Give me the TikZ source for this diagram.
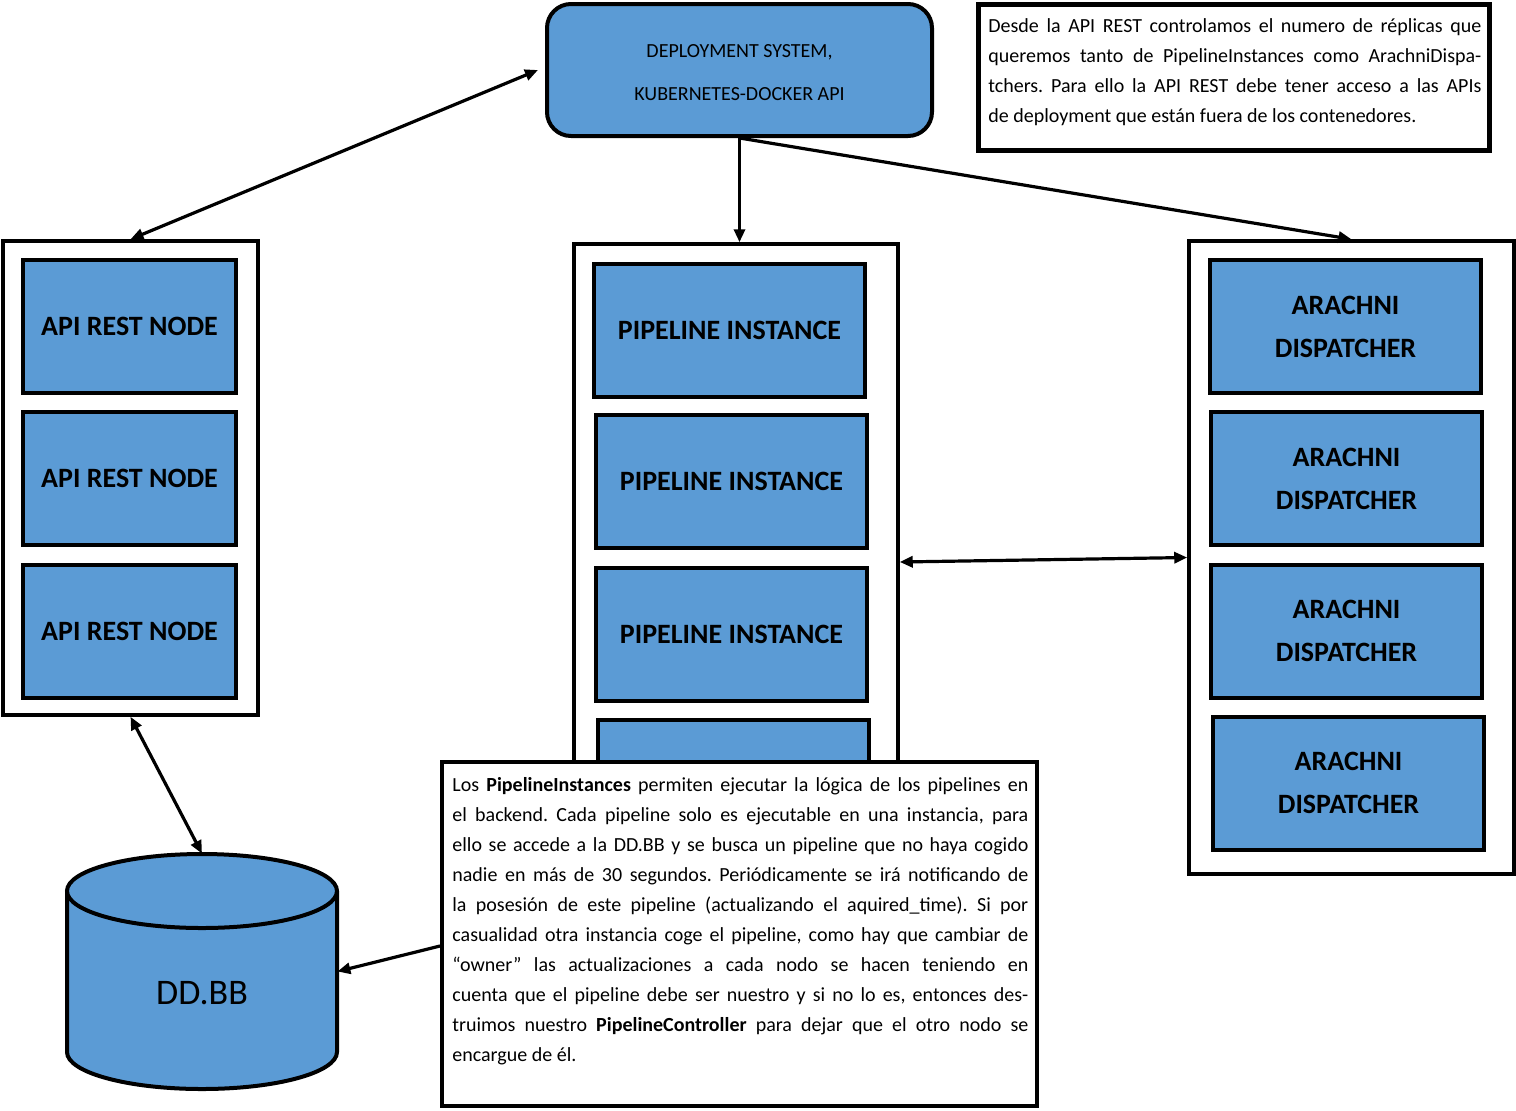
\documentclass[tikz,border=0pt]{standalone}
\usepackage{fontspec}
\setmainfont{Carlito}
\usetikzlibrary{arrows.meta,positioning,calc}
\definecolor{unitblue}{HTML}{5B9BD5}
\frenchspacing

\tikzset{
  container/.style={draw, fill=white, line width=1.75pt, inner sep=0pt},
  unit/.style={draw, fill=unitblue, line width=2pt, inner sep=0pt, align=center,
    minimum height=66.5pt, font=\fontsize{14}{21.5}\selectfont\bfseries},
  notebox/.style={draw, fill=white, inner sep=0pt},
  notetext/.style={inner sep=0pt, align=justify, anchor=north west,
    font=\fontsize{10}{15}\selectfont},
  link/.style={-{Triangle[length=6.5pt,width=5.5pt]}, line width=1.6pt},
  both/.style={{Triangle[length=6.5pt,width=5.5pt]}-{Triangle[length=6.5pt,width=5.5pt]}, line width=1.6pt}
}

\begin{document}
\begin{tikzpicture}[x=0.5pt, y=-0.5pt]
    \useasboundingbox (0,0) rectangle (1516,1110);

    % API REST
    \node[container, minimum width=127.5pt, minimum height=237pt] (api) at (130.5,478) {};
    \node[unit, minimum width=106.5pt] (api1) at (129.5,326.5) {API REST NODE};
    \node[unit, minimum width=106.5pt] (api2) at (129.5,478.5) {API REST NODE};
    \node[unit, minimum width=106.5pt] (api3) at (129.5,631.5) {API REST NODE};

    % Pipelines
    \node[container, minimum width=162pt, minimum height=330pt] (pipe) at (736,574) {};
    \node[unit, minimum width=135.5pt] (pipe1) at (729.5,330) {PIPELINE INSTANCE};
    \node[unit, minimum width=135.5pt] (pipe2) at (731.5,481.5) {PIPELINE INSTANCE};
    \node[unit, minimum width=135.5pt] (pipe3) at (731.5,634.5) {PIPELINE INSTANCE};
    \node[unit, minimum width=135.5pt] (pipe4) at (733,786) {};

    % Arachni
    \node[container, minimum width=162.5pt, minimum height=316.5pt] (arach) at (1351.5,557.5) {};
    \node[unit, minimum width=135.5pt] (arach1) at (1345.5,326.5) {ARACHNI\\DISPATCHER};
    \node[unit, minimum width=135.5pt] (arach2) at (1346.5,478.5) {ARACHNI\\DISPATCHER};
    \node[unit, minimum width=135.5pt] (arach3) at (1346.5,631) {ARACHNI\\DISPATCHER};
    \node[unit, minimum width=135.5pt] (arach4) at (1348.5,783) {ARACHNI\\DISPATCHER};

    % Deployment
    \node[draw, fill=unitblue, rounded corners=12pt, line width=2pt, minimum width=192.5pt,
      minimum height=66pt, align=center, font=\fontsize{10}{21.5}\selectfont]
      (deploy) at (739.5,70) {\rule{0pt}{9pt}DEPLOYMENT SYSTEM,\\KUBERNETES-DOCKER API};

    % Note top
    \node[notebox, line width=2.5pt, minimum width=255.5pt, minimum height=73pt] (info) at (1233.5,77) {};
    \node[notetext, text width=246.5pt] (infotext) at (988,11) {\strut Desde la API REST controlamos el numero de réplicas que\linebreak
      queremos tanto de PipelineInstances como ArachniDispa-\linebreak
      tchers. Para ello la API REST debe tener acceso a las APIs\linebreak
      de deployment que están fuera de los contenedores.};

    % DB
    \filldraw[fill=unitblue, line width=2pt] (67,891) -- (67,1052)
      arc[start angle=180, end angle=0, x radius=135, y radius=37] -- (337,891);
    \filldraw[fill=unitblue, line width=2pt] (202,891) ellipse [x radius=135, y radius=37];
    \node[minimum width=135pt, minimum height=117.5pt, inner sep=0pt] (db) at (202,971.5) {};
    \node[font=\fontsize{18}{22}\selectfont] (dblabel) at (202,993) {DD.BB};

    % Arrows
    \draw[both] ([xshift=-3.5pt]deploy.west) -- (api.north);
    \draw[link] (deploy.south) -- (deploy.south |- pipe.north);
    \draw[link] (deploy.south) -- (arach.north);
    \draw[both] ([yshift=6pt]pipe.east) -- (arach.west);
    \draw[both] (api.south) -- (db.north);

    % Note bottom
    \node[notebox, line width=2pt, minimum width=297.5pt, minimum height=172pt] (note) at (739.5,934) {};
    \node[notetext, text width=288pt] (notetext) at (452,770) {\strut Los \textbf{PipelineInstances} permiten ejecutar la lógica de los pipelines en\linebreak
      el backend. Cada pipeline solo es ejecutable en una instancia, para\linebreak
      ello se accede a la DD.BB y se busca un pipeline que no haya cogido\linebreak
      nadie en más de 30 segundos. Periódicamente se irá notificando de\linebreak
      la posesión de este pipeline (actualizando el aquired\_time). Si por\linebreak
      casualidad otra instancia coge el pipeline, como hay que cambiar de\linebreak
      “owner” las actualizaciones a cada nodo se hacen teniendo en\linebreak
      cuenta que el pipeline debe ser nuestro y si no lo es, entonces des-\linebreak
      truimos nuestro \textbf{PipelineController} para dejar que el otro nodo se\linebreak
      encargue de él.};
    \draw[link] ([yshift=-6pt]note.west) -- (db.east);
\end{tikzpicture}
\end{document}
